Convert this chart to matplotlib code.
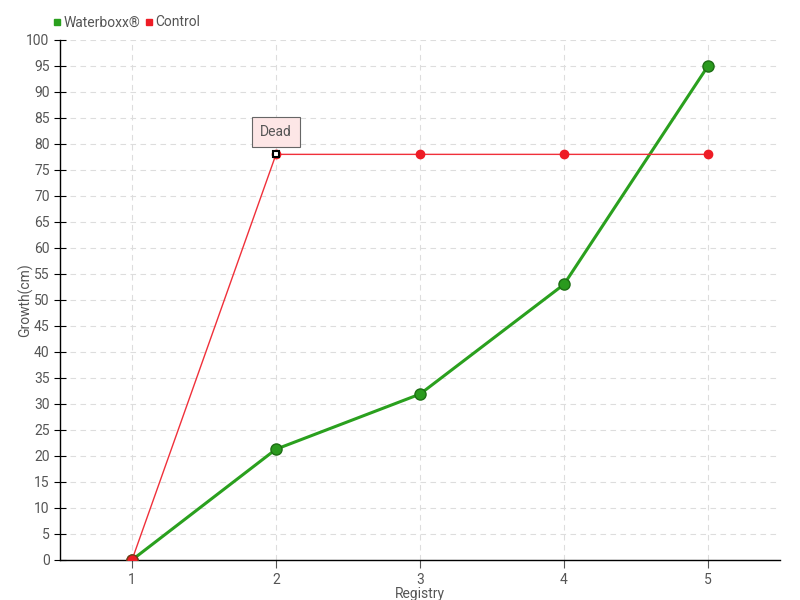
import matplotlib
matplotlib.use('Agg')
import matplotlib.pyplot as plt
from matplotlib.lines import Line2D

plt.rcParams['font.family'] = ['Roboto', 'DejaVu Sans']

registry = [1, 2, 3, 4, 5]
waterboxx = [0, 21.3, 31.9, 53, 95]
control = [0, 78, 78, 78, 78]

fig = plt.figure(figsize=(8, 6), dpi=100)
ax = fig.add_axes([0.075, 0.0667, 0.9, 0.8667])

txt = '#555555'
ax.plot(registry, waterboxx, color='#2aa01e', lw=2.2, marker='o', ms=8,
        mfc='#2a9a1e', mec='#1d6e14', zorder=3)
ax.plot(registry, control, color='#f0303a', lw=1, marker='o', ms=6,
        mfc='#ee1c25', mec='#ee1c25', zorder=4)
ax.plot([1], [0], marker='o', ms=8, mfc='#ee1c25', mec='#7a3a1a', zorder=5)
ax.plot([2], [78], marker='s', ms=5, mfc='white', mec='black', mew=1.5, zorder=6)

ax.annotate('Dead', xy=(2, 78), xytext=(2, 82.3), ha='center', va='center',
            fontsize=10, color=txt,
            bbox=dict(boxstyle='square,pad=0.55', fc='#fde6e6', ec='#666666', lw=0.8))

ax.set_xlim(0.5, 5.5)
ax.set_ylim(0, 100)
ax.set_xticks(registry)
ax.set_yticks(range(0, 101, 5))
ax.grid(True, ls=(0, (5, 4)), color='#dddddd', lw=0.8)
ax.set_axisbelow(True)
for s in ['top', 'right']:
    ax.spines[s].set_visible(False)
ax.spines['left'].set_linewidth(1)
ax.spines['bottom'].set_linewidth(1)
ax.tick_params(axis='y', direction='inout', length=8, labelsize=10, labelcolor=txt)
ax.tick_params(axis='x', direction='out', length=6, color='#555555', labelsize=10, labelcolor=txt)
ax.set_xlabel('Registry', fontsize=10, color=txt, labelpad=0)
ax.set_ylabel('Growth(cm)', fontsize=10, color=txt, labelpad=-5)

handles = [Line2D([], [], ls='', marker='s', ms=5, color='#2aa01e'),
           Line2D([], [], ls='', marker='s', ms=5, color='#ee1c25')]
fig.legend(handles, ['Waterboxx®', 'Control'], loc='upper left', bbox_to_anchor=(0.05, 0.995),
           ncol=2, frameon=False, handlelength=0.6, handletextpad=0.2, columnspacing=0.3,
           labelcolor=txt, fontsize=10)

fig.savefig('out.png', dpi=100)
